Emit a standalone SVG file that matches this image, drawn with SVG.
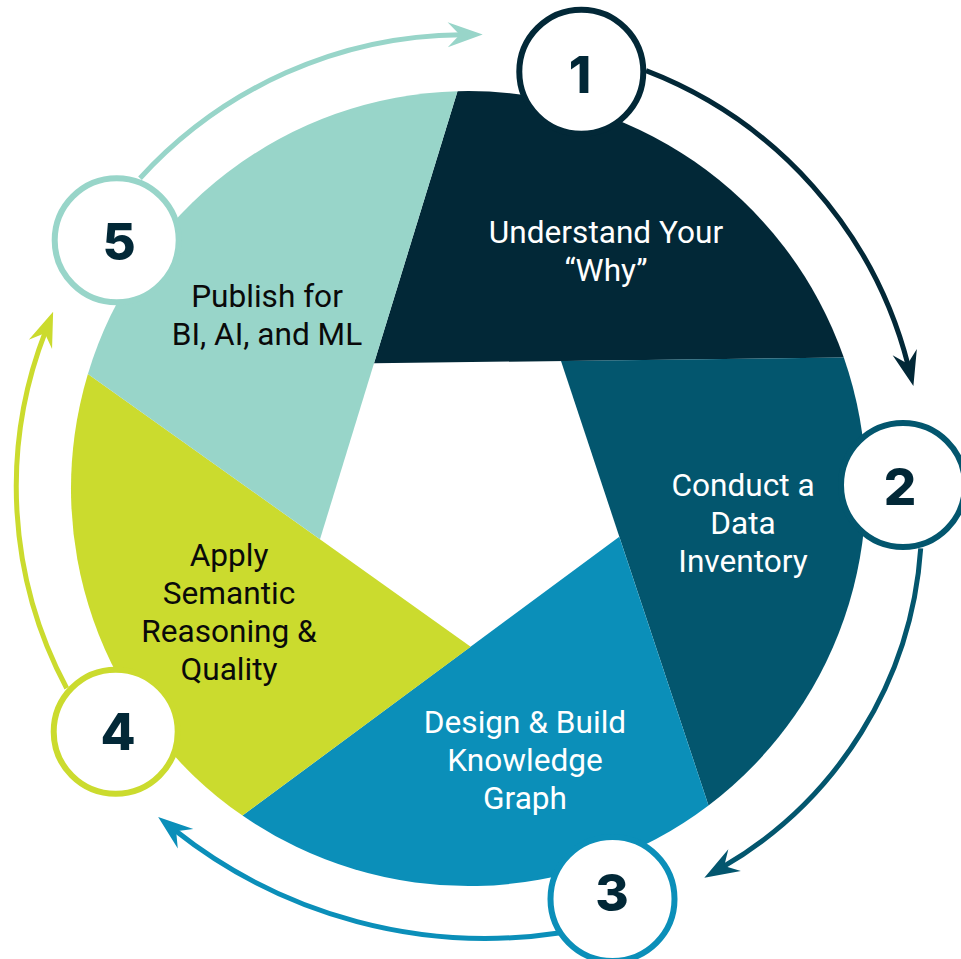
<svg xmlns="http://www.w3.org/2000/svg" width="961" height="959" viewBox="0 0 961 959">
  <style>
    .label { font-family: Roboto, "Liberation Sans", sans-serif; font-size: 31.6px; text-anchor: middle; }
    .light { fill: #ffffff; }
    .dark { fill: #0a0a0a; }
    .num { font-family: Inter, "Open Sans", "Liberation Sans", sans-serif; font-weight: 800; font-size: 51px; fill: #022837; text-anchor: middle; }
    .ring { fill: #ffffff; stroke-width: 6; }
    .link { fill: none; stroke-width: 5; }
  </style>
  <defs>
    <marker id="head-navy" markerUnits="userSpaceOnUse" orient="auto" overflow="visible" markerWidth="1" markerHeight="1">
      <path d="M21,0 L-14,-12.5 L-2,0 L-14,12.5 Z" fill="#022837"/>
    </marker>
    <marker id="head-teal" markerUnits="userSpaceOnUse" orient="auto" overflow="visible" markerWidth="1" markerHeight="1">
      <path d="M21,0 L-14,-12.5 L-2,0 L-14,12.5 Z" fill="#03566e"/>
    </marker>
    <marker id="head-blue" markerUnits="userSpaceOnUse" orient="auto" overflow="visible" markerWidth="1" markerHeight="1">
      <path d="M21,0 L-14,-12.5 L-2,0 L-14,12.5 Z" fill="#0b8fb9"/>
    </marker>
    <marker id="head-lime" markerUnits="userSpaceOnUse" orient="auto" overflow="visible" markerWidth="1" markerHeight="1">
      <path d="M21,0 L-14,-12.5 L-2,0 L-14,12.5 Z" fill="#cbdb2e"/>
    </marker>
    <marker id="head-mint" markerUnits="userSpaceOnUse" orient="auto" overflow="visible" markerWidth="1" markerHeight="1">
      <path d="M21,0 L-14,-12.5 L-2,0 L-14,12.5 Z" fill="#98d5c9"/>
    </marker>
  </defs>

  <rect width="961" height="959" fill="#ffffff"/>

  <!-- aperture blades around a central pentagon -->
  <g id="blade-1">
    <path d="M374,363.3 L457.5,91.2 A397.5,397.5 0 0 1 843.8,357.5 Z" fill="#022837"/>
    <text class="label light" x="606" y="243">Understand Your</text>
    <text class="label light" x="606" y="281">“Why”</text>
  </g>
  <g id="blade-2">
    <path d="M561,361 L843.8,357.5 A397.5,397.5 0 0 1 708.5,805.4 Z" fill="#03566e"/>
    <text class="label light" x="743" y="496">Conduct a</text>
    <text class="label light" x="743" y="534">Data</text>
    <text class="label light" x="743" y="572">Inventory</text>
  </g>
  <g id="blade-3">
    <path d="M619.3,536.7 L708.5,805.4 A397.5,397.5 0 0 1 242.5,815.6 Z" fill="#0b8fb9"/>
    <text class="label light" x="525" y="733">Design &amp; Build</text>
    <text class="label light" x="525" y="771">Knowledge</text>
    <text class="label light" x="525" y="809">Graph</text>
  </g>
  <g id="blade-4">
    <path d="M470.7,646.7 L242.5,815.6 A397.5,397.5 0 0 1 87.9,373.9 Z" fill="#cbdb2e"/>
    <text class="label dark" x="229" y="566">Apply</text>
    <text class="label dark" x="229" y="604">Semantic</text>
    <text class="label dark" x="229" y="642">Reasoning &amp;</text>
    <text class="label dark" x="229" y="680">Quality</text>
  </g>
  <g id="blade-5">
    <path d="M320,539.3 L87.9,373.9 A397.5,397.5 0 0 1 457.5,91.2 Z" fill="#98d5c9"/>
    <text class="label dark" x="267" y="307">Publish for</text>
    <text class="label dark" x="267" y="345">BI, AI, and ML</text>
  </g>

  <!-- curved arrows linking the steps -->
  <g id="connectors">
    <path class="link" stroke="#022837" d="M646,70.7 A430,430 0 0 1 908.2,365.6" marker-end="url(#head-navy)"/>
    <path class="link" stroke="#03566e" d="M920.7,548.3 A400,400 0 0 1 722.5,867.1" marker-end="url(#head-teal)"/>
    <path class="link" stroke="#0b8fb9" d="M560.7,932.7 A500,500 0 0 1 174.6,830.0" marker-end="url(#head-blue)"/>
    <path class="link" stroke="#cbdb2e" d="M66.7,688.3 A428,428 0 0 1 45.5,331.3" marker-end="url(#head-lime)"/>
    <path class="link" stroke="#98d5c9" d="M140,178.3 A439,439 0 0 1 461.7,34.7" marker-end="url(#head-mint)"/>
  </g>

  <!-- numbered step badges -->
  <g id="step-1">
    <circle class="ring" cx="581.3" cy="71.7" r="62" stroke="#022837"/>
    <text class="num" x="580" y="93">1</text>
  </g>
  <g id="step-2">
    <circle class="ring" cx="903" cy="485" r="62" stroke="#03566e"/>
    <text class="num" x="900" y="505">2</text>
  </g>
  <g id="step-3">
    <circle class="ring" cx="612.5" cy="899" r="62" stroke="#0b8fb9"/>
    <text class="num" x="612" y="911">3</text>
  </g>
  <g id="step-4">
    <circle class="ring" cx="115.7" cy="731.8" r="62" stroke="#cbdb2e"/>
    <text class="num" x="118" y="750">4</text>
  </g>
  <g id="step-5">
    <circle class="ring" cx="116.7" cy="240.3" r="62" stroke="#98d5c9"/>
    <text class="num" x="119" y="260">5</text>
  </g>
</svg>
